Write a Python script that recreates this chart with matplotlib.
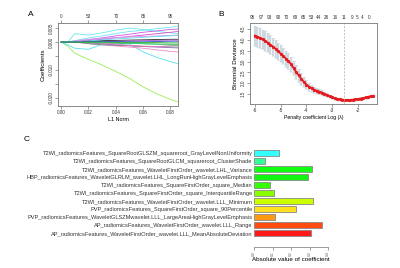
import numpy as np
import matplotlib.pyplot as plt

plt.rcParams['font.family'] = ['Liberation Sans', 'DejaVu Sans']

# ---- panel A: lasso coefficient paths ----
l1_norm = [0.0, 0.005, 0.01, 0.02, 0.03, 0.04, 0.05, 0.06, 0.07, 0.08, 0.086]
df_top = ['0', '53', '70', '85', '95']
coef_paths = [
    [0, -0.0015, -0.0040, -0.0062, -0.0082, -0.0105, -0.0130, -0.0160, -0.0185, -0.0205, -0.0214],
    [0, -0.0010, -0.0022, -0.0026, -0.0008, -0.0006, -0.0007, -0.0035, -0.0055, -0.0070, -0.0078],
    [0, 0.0, 0.0030, 0.0025, 0.0033, 0.0043, 0.0050, 0.0045, 0.0038, 0.0033, 0.0030],
    [0, 0.0, 0.0005, 0.0015, 0.0022, 0.0030, 0.0038, 0.0042, 0.0048, 0.0053, 0.0057],
    [0, 0.0, 0.0002, 0.0008, 0.0015, 0.0022, 0.0028, 0.0035, 0.0040, 0.0045, 0.0047],
    [0, 0.0, 0.0, -0.0005, -0.0010, -0.0014, -0.0018, -0.0022, -0.0028, -0.0033, -0.0036],
    [0, 0.0, 0.0, 0.0005, 0.0010, 0.0015, 0.0020, 0.0025, 0.0030, 0.0035, 0.0038],
    [0, 0.0, 0.0, -0.0003, -0.0006, -0.0010, -0.0013, -0.0016, -0.0018, -0.0020, -0.0021],
    [0, 0.0, 0.0, 0.0003, 0.0005, 0.0006, 0.0007, 0.0008, 0.0009, 0.0010, 0.0010],
    [0, 0.0, 0.0, -0.0002, -0.0003, -0.0004, -0.0005, -0.0006, -0.0007, -0.0008, -0.0008],
    [0, 0.0, 0.0005, 0.0010, 0.0013, 0.0016, 0.0018, 0.0020, 0.0022, 0.0024, 0.0025],
    [0, 0.0, 0.0, -0.0006, -0.0010, -0.0012, -0.0013, -0.0015, -0.0016, -0.0017, -0.0018],
    [0, 0.0, 0.0, 0.0, -0.0003, -0.0007, -0.0012, -0.0015, -0.0016, -0.0013, -0.0012],
    [0, 0.0, 0.0001, 0.0004, 0.0008, 0.0011, 0.0014, 0.0017, 0.0020, 0.0022, 0.0024],
    [0, 0.0, 0.0, 0.0001, 0.0002, 0.0003, 0.0004, 0.0005, 0.0006, 0.0007, 0.0007],
    [0, 0.0, 0.0, -0.0001, -0.0002, -0.0003, -0.0004, -0.0006, -0.0008, -0.0010, -0.0011],
    [0, 0.0, 0.0, 0.0002, 0.0003, 0.0002, 0.0001, 0.0001, 0.0002, 0.0003, 0.0003],
    [0, 0.0, 0.0, 0.0, 0.0, -0.0001, -0.0001, -0.0002, -0.0002, -0.0003, -0.0003],
]
path_colors = ['#99ee55', '#55e0ee', '#66e8f0', '#66e8f0', '#cc55dd', '#f088c8',
               '#dd44cc', '#9966cc', '#222222', '#33bb44', '#cc99ee', '#888888',
               '#ee77bb', '#66ddee', '#aa55cc', '#44cc88', '#3355cc', '#22aa22']

# ---- panel B: cross-validation deviance ----
log_lambda = [-6.0, -5.9, -5.8, -5.7, -5.6, -5.5, -5.4, -5.3, -5.2, -5.1, -5.0,
              -4.9, -4.8, -4.7, -4.6, -4.5, -4.4, -4.3, -4.2, -4.1, -4.0,
              -3.9, -3.8, -3.7, -3.6, -3.5, -3.4, -3.3, -3.2, -3.1, -3.0,
              -2.9, -2.8, -2.7, -2.6, -2.5, -2.4, -2.3, -2.2, -2.1, -2.0,
              -1.9, -1.8, -1.7, -1.6, -1.5, -1.4]
deviance = [4.20, 4.15, 4.09, 4.02, 3.95, 3.87, 3.78, 3.69, 3.59, 3.48, 3.37,
            3.26, 3.14, 3.02, 2.88, 2.70, 2.52, 2.36, 2.20, 2.06, 1.94,
            1.84, 1.76, 1.70, 1.65, 1.61, 1.57, 1.51, 1.45, 1.39, 1.34,
            1.30, 1.27, 1.25, 1.24, 1.23, 1.23, 1.23, 1.24, 1.25, 1.27,
            1.29, 1.31, 1.34, 1.37, 1.40, 1.42]
deviance_se = [0.46, 0.46, 0.45, 0.45, 0.44, 0.44, 0.43, 0.42, 0.41, 0.40, 0.39,
               0.38, 0.37, 0.36, 0.35, 0.34, 0.32, 0.30, 0.27, 0.24, 0.21,
               0.18, 0.16, 0.14, 0.13, 0.12, 0.11, 0.10, 0.09, 0.08, 0.07,
               0.06, 0.06, 0.05, 0.05, 0.05, 0.05, 0.05, 0.05, 0.05, 0.05,
               0.05, 0.05, 0.05, 0.05, 0.05, 0.05]
nz_pos = [-6.09, -5.74, -5.42, -5.09, -4.77, -4.44, -4.12, -3.79, -3.54, -3.21,
          -2.89, -2.54, -2.24, -2.04, -1.82, -1.55]
nz_labels = ['95', '97', '93', '90', '70', '69', '65', '53', '44', '26',
             '16', '11', '9', '5', '4', '0']
lambda_min = -2.56

# ---- panel C: selected features ----
features = [
    'T2WI_radiomicsFeatures_SquareRootGLSZM_squareroot_GrayLevelNonUniformity',
    'T2WI_radiomicsFeatures_SquareRootGLCM_squareroot_ClusterShade',
    'T2WI_radiomicsFeatures_WaveletFirstOrder_wavelet.LHL_Variance',
    'HBP_radiomicsFeatures_WaveletGLRLM_wavelet.LHL_LongRunHighGrayLevelEmphasis',
    'T2WI_radiomicsFeatures_SquareFirstOrder_square_Median',
    'T2WI_radiomicsFeatures_SquareFirstOrder_square_InterquartileRange',
    'T2WI_radiomicsFeatures_WaveletFirstOrder_wavelet.LLL_Minimum',
    'PVP_radiomicsFeatures_SquareFirstOrder_square_90Percentile',
    'PVP_radiomicsFeatures_WaveletGLSZMwavelet.LLL_LargeAreaHighGrayLevelEmphasis',
    'AP_radiomicsFeatures_WaveletFirstOrder_wavelet.LLL_Range',
    'AP_radiomicsFeatures_WaveletFirstOrder_wavelet.LLL_MeanAbsoluteDeviation',
]
abs_coef = [0.137, 0.058, 0.312, 0.294, 0.088, 0.106, 0.317, 0.229, 0.112, 0.368, 0.306]
bar_colors = ['#33ffff', '#33ff99', '#11ff11', '#11f511', '#33ff00', '#88ff00',
              '#ccff00', '#ffe020', '#ff9912', '#ff4d12', '#ff1a1a']

gray = '#777777'
fig = plt.figure(figsize=(4, 2.68), dpi=100)


def r_box(ax):
    for s in ax.spines.values():
        s.set_color(gray)
        s.set_linewidth(0.6)
    ax.tick_params(colors=gray, labelcolor='#333333', width=0.5, length=2, pad=1)


# A
axA = fig.add_axes([0.145, 0.604, 0.30, 0.31])
for path, c in zip(coef_paths, path_colors):
    axA.plot(l1_norm, path, color=c, lw=0.6)
axA.set_xlim(-0.0023, 0.0855)
axA.set_ylim(-0.0229, 0.0068)
r_box(axA)
axA.set_xticks([0, 0.02, 0.04, 0.06, 0.08])
axA.set_xticklabels(['0.00', '0.02', '0.04', '0.06', '0.08'], fontsize=3.3)
axA.set_yticks([0.005, 0, -0.005, -0.010, -0.015, -0.020])
axA.set_yticklabels(['0.005', '0.000', '', '-0.010', '', '-0.020'], fontsize=3.3,
                    rotation=90, va='center')
axA.set_xlabel('L1 Norm', fontsize=3.9, labelpad=1.5)
axA.set_ylabel('Coefficients', fontsize=4.5, labelpad=2)
topA = axA.secondary_xaxis('top')
topA.set_xticks([0, 0.02, 0.04, 0.06, 0.08])
topA.set_xticklabels(df_top, fontsize=3.3)
topA.tick_params(colors=gray, labelcolor='#333333', width=0.5, length=2, pad=1)
topA.spines['top'].set_visible(False)
fig.text(0.07, 0.94, 'A', fontsize=6)

# B
axB = fig.add_axes([0.625, 0.612, 0.3175, 0.302])
axB.errorbar(log_lambda, deviance, yerr=deviance_se, fmt='none', ecolor='#cdd9df',
             elinewidth=1.6, capsize=1.2, capthick=0.4)
axB.plot(log_lambda, deviance, color='#e8191c', lw=1.3)
axB.plot(log_lambda, deviance, 'o', color='#e8191c', ms=1.3)
axB.axvline(lambda_min, color='#aaaaaa', lw=0.5, ls=(0, (3, 2)))
axB.set_xlim(-6.19, -1.26)
axB.set_ylim(1.04, 4.78)
r_box(axB)
axB.set_xticks([-6, -5, -4, -3, -2])
axB.set_xticklabels(['-6', '-5', '-4', '-3', '-2'], fontsize=3.5)
axB.set_yticks([1.5, 2.0, 2.5, 3.0, 3.5, 4.0, 4.5])
axB.set_yticklabels(['1.5', '2.0', '2.5', '3.0', '3.5', '4.0', '4.5'], fontsize=3.3,
                    rotation=90, va='center')
axB.set_xlabel('Penalty coefficient Log (\u03bb)', fontsize=3.7, labelpad=1.5)
axB.set_ylabel('Binomial Deviance', fontsize=4.4, labelpad=2)
topB = axB.secondary_xaxis('top')
topB.set_xticks(nz_pos)
topB.set_xticklabels(nz_labels, fontsize=3.3)
topB.tick_params(length=0, pad=2, labelcolor='#333333')
topB.spines['top'].set_visible(False)
fig.text(0.545, 0.94, 'B', fontsize=6)

# C
axC = fig.add_axes([0.635, 0.0784, 0.185, 0.366])
ypos = np.arange(len(features))[::-1]
axC.barh(ypos, abs_coef, height=0.72, color=bar_colors, edgecolor='#888888', linewidth=0.6)
axC.set_xlim(0, 0.4)
axC.set_ylim(-1.75, 10.5)
for s in ['top', 'right', 'left']:
    axC.spines[s].set_visible(False)
axC.spines['bottom'].set_color(gray)
axC.spines['bottom'].set_linewidth(0.5)
axC.set_yticks(ypos)
axC.set_yticklabels(features, fontsize=4.05, color='#333333')
axC.tick_params(axis='y', length=0, pad=1)
axC.set_xticks([0, 0.1, 0.2, 0.3, 0.4])
axC.set_xticklabels(['0.0', '0.1', '0.2', '0.3', '0.4'], fontsize=2.4, rotation=90)
axC.tick_params(axis='x', colors=gray, labelcolor='#555555', width=0.5, length=2, pad=1)
axC.set_xlabel('Absolute value of coefficient', fontsize=4.5, labelpad=1)
fig.text(0.06, 0.475, 'C', fontsize=6)

fig.savefig('out.png', dpi=100)
